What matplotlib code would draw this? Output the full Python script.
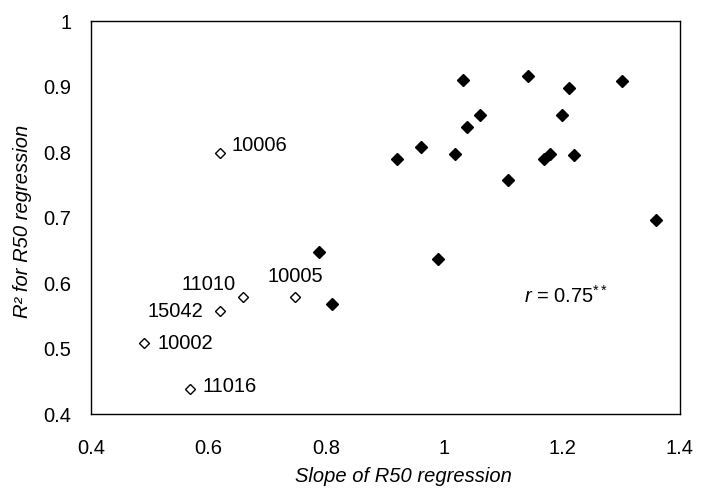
import matplotlib
matplotlib.use('Agg')
import matplotlib.pyplot as plt

plt.rcParams['font.family'] = ['Liberation Sans', 'DejaVu Sans']
plt.rcParams['mathtext.fontset'] = 'custom'
plt.rcParams['mathtext.rm'] = 'Liberation Sans'
plt.rcParams['mathtext.it'] = 'Liberation Sans:italic'

# Открытые маркеры (подписанные образцы)
open_x = [0.62, 0.659, 0.62, 0.49, 0.569, 0.747]
open_y = [0.798, 0.579, 0.557, 0.508, 0.438, 0.579]
open_names = ['10006', '11010', '15042', '10002', '11016', '10005']

# Закрашенные маркеры
fill_x = [0.788, 0.81, 1.032, 1.142, 1.212, 1.302, 1.061, 1.039, 1.2,
          0.961, 0.92, 1.019, 1.169, 1.18, 1.22, 1.109, 1.359, 0.989]
fill_y = [0.647, 0.568, 0.910, 0.916, 0.898, 0.909, 0.856, 0.838, 0.856,
          0.808, 0.790, 0.797, 0.789, 0.797, 0.796, 0.757, 0.696, 0.637]

x_ticks = [0.4, 0.6, 0.8, 1.0, 1.2, 1.4]
x_tick_labels = ['0.4', '0.6', '0.8', '1', '1.2', '1.4']
y_ticks = [0.4, 0.5, 0.6, 0.7, 0.8, 0.9, 1.0]
y_tick_labels = ['0.4', '0.5', '0.6', '0.7', '0.8', '0.9', '1']

# смещения подписей в пикселях
offsets = {'10006': (11, 8, 'left'), '11010': (-8, 12, 'right'),
           '15042': (-17, 0, 'right'), '10002': (14, 0, 'left'),
           '11016': (12, 3, 'left'), '10005': (0, 20, 'center')}

fs = 14.5

fig = plt.figure(figsize=(7.09, 4.90), dpi=100)
ax = fig.add_axes([0.128, 0.155, 0.831, 0.802])

ax.plot(fill_x, fill_y, 'D', color='black', markersize=6, linestyle='none')
ax.plot(open_x, open_y, 'D', markerfacecolor='white', markeredgecolor='black',
        markeredgewidth=1.0, markersize=5, linestyle='none')

for x, y, name in zip(open_x, open_y, open_names):
    dx, dy, ha = offsets[name]
    ax.annotate(name, (x, y), xytext=(dx, dy), textcoords='offset pixels',
                ha=ha, va='center', fontsize=fs)

ax.text(0.735, 0.3, r'$r$ = 0.75$^{**}$', transform=ax.transAxes,
        fontsize=fs, ha='left', va='center')

ax.set_xlim(0.4, 1.4)
ax.set_ylim(0.4, 1.0)
ax.set_xticks(x_ticks)
ax.set_xticklabels(x_tick_labels)
ax.set_yticks(y_ticks)
ax.set_yticklabels(y_tick_labels)
ax.tick_params(length=0, labelsize=fs)
ax.tick_params(axis='x', pad=18)
ax.tick_params(axis='y', pad=14)

ax.set_xlabel('Slope of R50 regression', fontsize=fs, style='italic')
ax.set_ylabel('R\u00b2 for R50 regression', fontsize=fs, style='italic')
ax.xaxis.set_label_coords(0.53, -0.135)
ax.yaxis.set_label_coords(-0.1, 0.49)

for s in ax.spines.values():
    s.set_linewidth(1.0)

fig.savefig('out.png', dpi=100)
